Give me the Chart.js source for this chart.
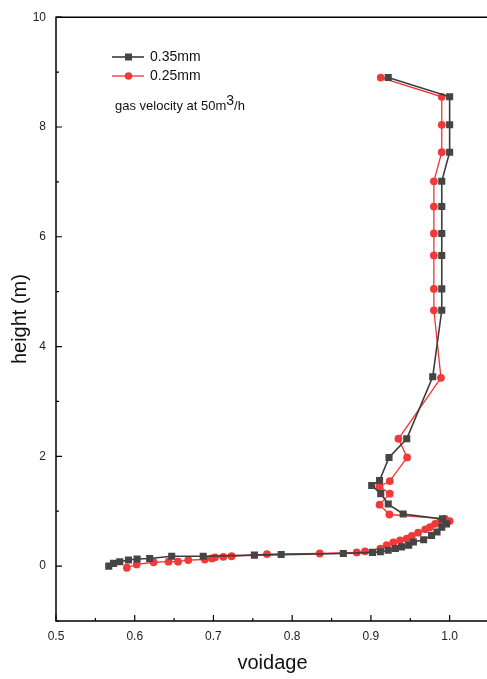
<!DOCTYPE html>
<html><head><meta charset="utf-8">
<script src="https://cdn.jsdelivr.net/npm/chart.js@4/dist/chart.umd.min.js"></script>
<style>
html,body{margin:0;padding:0;background:#fff;overflow:hidden;width:487px;height:679px}
#wrap{position:relative;width:494px;height:679px}
</style></head>
<body><div id="wrap"><canvas id="c" width="494" height="679"></canvas></div>
<script>
const seriesNames = ["0.35mm", "0.25mm"];
const annotationText = ["gas velocity at 50m", "3", "/h"];
const xTitle = "voidage";
const yTitle = "height (m)";

const voidage035 = [0.567,0.573,0.581,0.592,0.603,0.619,0.647,0.687,0.752,0.786,0.865,0.902,0.912,0.922,0.931,0.939,0.948,0.954,0.967,0.977,0.984,0.990,0.996,0.991,0.941,0.922,0.9125,0.901,0.911,0.923,0.9455,0.9785,0.990,0.990,0.990,0.990,0.990,0.990,1.000,1.000,1.000,0.922];
const height035  = [0.00,0.05,0.08,0.11,0.13,0.14,0.18,0.18,0.20,0.21,0.23,0.25,0.26,0.29,0.32,0.35,0.38,0.44,0.48,0.56,0.62,0.71,0.77,0.86,0.95,1.13,1.32,1.47,1.56,1.98,2.32,3.45,4.66,5.05,5.66,6.06,6.55,7.01,7.54,8.04,8.55,8.90];

const voidage025 = [0.590,0.6025,0.624,0.643,0.655,0.668,0.689,0.698,0.702,0.7125,0.723,0.768,0.835,0.882,0.8925,0.912,0.920,0.9285,0.937,0.9455,0.952,0.960,0.969,0.975,0.9815,0.988,1.000,0.994,0.9235,0.911,0.924,0.911,0.924,0.946,0.935,0.989,0.980,0.980,0.980,0.980,0.980,0.980,0.990,0.990,0.990,0.9125];
const height025  = [-0.03,0.03,0.07,0.08,0.08,0.11,0.12,0.14,0.16,0.17,0.18,0.22,0.23,0.25,0.27,0.32,0.38,0.43,0.47,0.50,0.55,0.61,0.67,0.71,0.77,0.82,0.82,0.86,0.94,1.12,1.32,1.45,1.55,1.98,2.32,3.43,4.66,5.05,5.66,6.06,6.55,7.01,7.54,8.04,8.55,8.90];

const xTicks = [0.5,0.6,0.7,0.8,0.9,1.0];
const xMinorTicks = [0.55,0.65,0.75,0.85,0.95,1.05];
const yTicks = [0,2,4,6,8,10];
const yMinorTicks = [-1,1,3,5,7,9];

const toPts = (xs, ys) => xs.map((x, i) => ({x: x, y: ys[i]}));
const FONT = "'Liberation Sans', Arial, sans-serif";

const decor = {
  id: 'decor',
  afterDraw(chart) {
    const ctx = chart.ctx, a = chart.chartArea;
    const xs = chart.scales.x, ys = chart.scales.y;
    ctx.save();
    ctx.strokeStyle = '#000';
    ctx.lineWidth = 1.5;
    ctx.beginPath();
    ctx.rect(a.left, a.top, a.right - a.left, a.bottom - a.top);
    ctx.stroke();
    ctx.lineWidth = 1.2;
    ctx.beginPath();
    xTicks.forEach(v => { const p = xs.getPixelForValue(v); ctx.moveTo(p, a.bottom); ctx.lineTo(p, a.bottom - 6); });
    xMinorTicks.forEach(v => { const p = xs.getPixelForValue(v); ctx.moveTo(p, a.bottom); ctx.lineTo(p, a.bottom - 3); });
    yTicks.forEach(v => { const p = ys.getPixelForValue(v); ctx.moveTo(a.left, p); ctx.lineTo(a.left + 6, p); });
    yMinorTicks.forEach(v => { const p = ys.getPixelForValue(v); ctx.moveTo(a.left, p); ctx.lineTo(a.left + 3, p); });
    ctx.stroke();

    // legend
    const ds = chart.data.datasets;
    const rows = [57, 76];
    ds.forEach((d, i) => {
      const y = rows[i];
      ctx.strokeStyle = d.borderColor;
      ctx.lineWidth = d.borderWidth;
      ctx.beginPath(); ctx.moveTo(112, y); ctx.lineTo(144, y); ctx.stroke();
      ctx.fillStyle = d.pointBackgroundColor;
      if (d.pointStyle === 'rect') { ctx.fillRect(125, y - 3.5, 7, 7); }
      else { ctx.beginPath(); ctx.arc(128.5, y, 3.8, 0, Math.PI * 2); ctx.fill(); }
      ctx.fillStyle = '#111';
      ctx.font = '14px ' + FONT;
      ctx.textBaseline = 'middle';
      ctx.textAlign = 'left';
      ctx.fillText(d.label, 150, y + 0.5);
    });
    // annotation
    ctx.fillStyle = '#111';
    ctx.textBaseline = 'alphabetic';
    ctx.font = '13px ' + FONT;
    let x = 115;
    ctx.fillText(annotationText[0], x, 110);
    x += ctx.measureText(annotationText[0]).width;
    ctx.font = '14px ' + FONT;
    ctx.fillText(annotationText[1], x, 105);
    x += ctx.measureText(annotationText[1]).width;
    ctx.font = '13px ' + FONT;
    ctx.fillText(annotationText[2], x, 110);
    ctx.restore();
  }
};

new Chart(document.getElementById('c'), {
  type: 'scatter',
  data: {
    datasets: [
      {
        label: seriesNames[0],
        data: toPts(voidage035, height035),
        showLine: true,
        borderColor: '#3c3c3c',
        backgroundColor: '#454545',
        pointBackgroundColor: '#454545',
        pointBorderColor: '#454545',
        borderWidth: 1.6,
        pointStyle: 'rect',
        pointRadius: 5,
        pointBorderWidth: 0,
        tension: 0
      },
      {
        label: seriesNames[1],
        data: toPts(voidage025, height025),
        showLine: true,
        borderColor: '#f03434',
        backgroundColor: '#f03a3a',
        pointBackgroundColor: '#f03a3a',
        pointBorderColor: '#f03a3a',
        borderWidth: 1.3,
        pointStyle: 'circle',
        pointRadius: 3.9,
        pointBorderWidth: 0,
        tension: 0
      }
    ]
  },
  options: {
    responsive: false,
    animation: false,
    devicePixelRatio: 1,
    layout: { padding: { top: 12, right: 3, left: 0, bottom: 0 } },
    plugins: { legend: { display: false }, tooltip: { enabled: false } },
    scales: {
      x: {
        type: 'linear', min: 0.5, max: 1.05,
        afterBuildTicks: s => { s.ticks = xTicks.map(v => ({value: v})); },
        afterFit: s => { s.height = 58; },
        grid: { display: false, drawTicks: false },
        border: { display: false },
        ticks: { padding: 8, color: '#222', font: { family: FONT, size: 12 }, callback: v => Number(v).toFixed(1), maxRotation: 0 },
        title: { display: true, text: xTitle, color: '#111', font: { family: FONT, size: 20 }, padding: { top: 0, bottom: 4 } }
      },
      y: {
        type: 'linear', min: -1, max: 10,
        afterBuildTicks: s => { s.ticks = yTicks.map(v => ({value: v})); },
        afterFit: s => { s.width = 56; },
        grid: { display: false, drawTicks: false },
        border: { display: false },
        ticks: { padding: 10, color: '#222', font: { family: FONT, size: 12 }, callback: v => String(v) },
        title: { display: true, text: yTitle, color: '#111', font: { family: FONT, size: 20 }, padding: { top: 8, bottom: 0 } }
      }
    }
  },
  plugins: [decor]
});
</script>
</body></html>
